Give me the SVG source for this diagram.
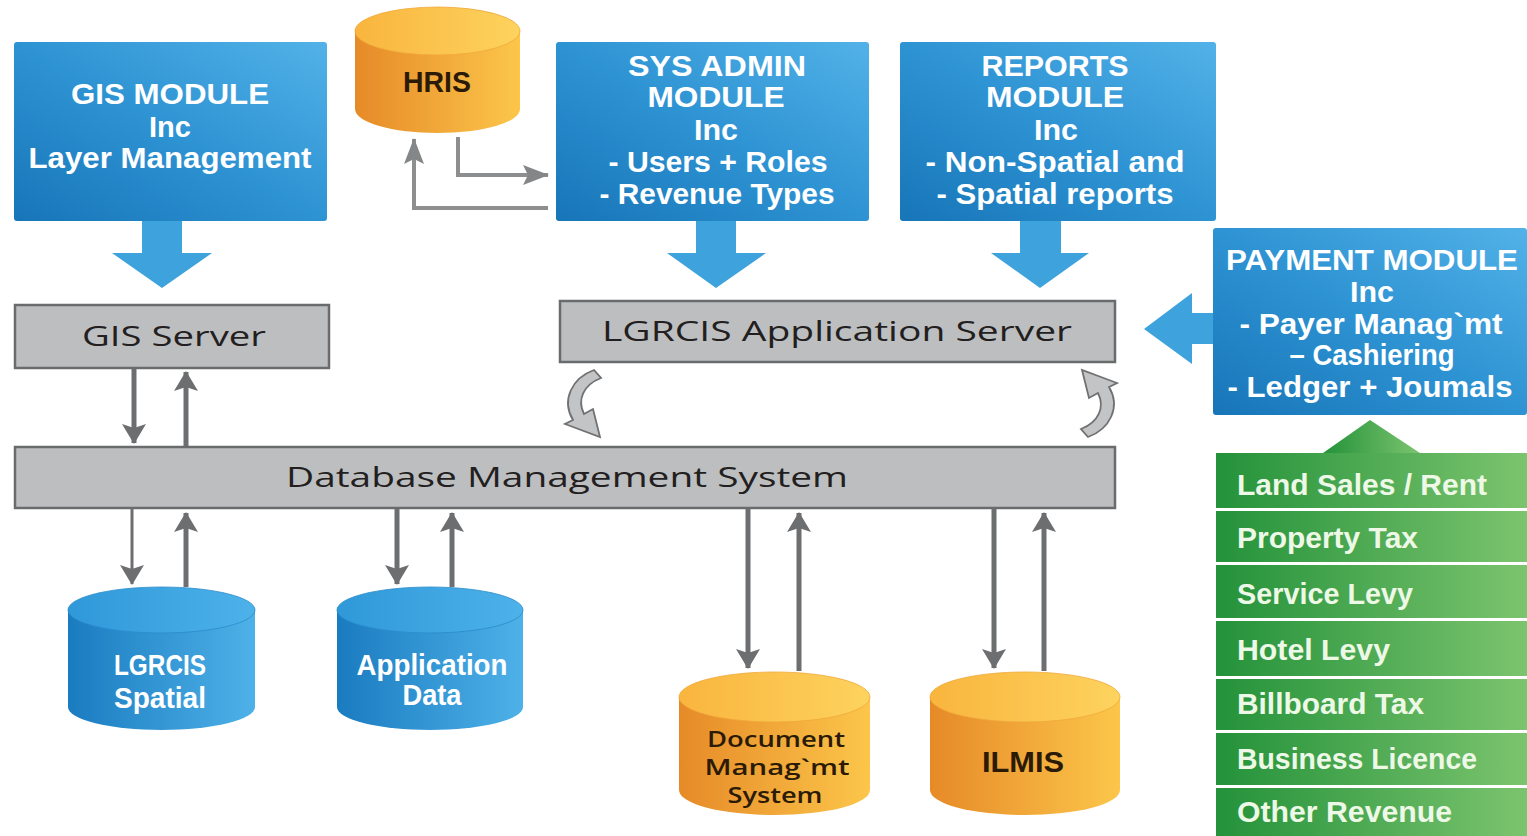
<svg xmlns="http://www.w3.org/2000/svg" xmlns:xlink="http://www.w3.org/1999/xlink" width="1527" height="836" viewBox="0 0 1527 836">
  <defs>
    <linearGradient id="gBlueBox" x1="0" y1="1" x2="1" y2="0">
      <stop offset="0" stop-color="#1775b8"/>
      <stop offset="0.5" stop-color="#2e93d3"/>
      <stop offset="1" stop-color="#52b2e8"/>
    </linearGradient>
    <linearGradient id="gBlueSide" x1="0" y1="0" x2="1" y2="0">
      <stop offset="0" stop-color="#1a7cc0"/>
      <stop offset="1" stop-color="#4eb1e8"/>
    </linearGradient>
    <linearGradient id="gBlueTop" x1="0" y1="0" x2="1" y2="0">
      <stop offset="0" stop-color="#2f98d8"/>
      <stop offset="1" stop-color="#4db2ea"/>
    </linearGradient>
    <linearGradient id="gOrangeSide" x1="0" y1="0" x2="1" y2="0">
      <stop offset="0" stop-color="#e68a28"/>
      <stop offset="1" stop-color="#fcc64a"/>
    </linearGradient>
    <linearGradient id="gOrangeTop" x1="0" y1="0" x2="1" y2="0">
      <stop offset="0" stop-color="#f9b53e"/>
      <stop offset="1" stop-color="#fdd35e"/>
    </linearGradient>
    <linearGradient id="gGreen" x1="0" y1="0" x2="1" y2="0">
      <stop offset="0" stop-color="#23923a"/>
      <stop offset="1" stop-color="#7cc46e"/>
    </linearGradient>
    <marker id="ah" viewBox="0 0 20 24" refX="19" refY="12" markerWidth="20" markerHeight="24" markerUnits="userSpaceOnUse" orient="auto">
      <path d="M0,0 L20,12 L0,24 L4,12 Z" fill="#6d6e70"/>
    </marker>
    <marker id="ahLight" viewBox="0 0 26 20" refX="25" refY="10" markerWidth="26" markerHeight="20" markerUnits="userSpaceOnUse" orient="auto">
      <path d="M0,0 L26,10 L0,20 L5,10 Z" fill="#858688"/>
    </marker>
    <!-- curled refresh arrow between application server and database -->
    <path id="curl" d="M594 370 C572 378, 561 400, 573 420 L565 424 L600 437 L593 409 L584 414 C577 400, 583 385, 601 378 Z"/>
  </defs>

  <style>
    .blueBox { fill: url(#gBlueBox); }
    .blockArrow { fill: #3ea2dc; }
    .server { fill: #bdbec0; stroke: #6a6b6d; stroke-width: 2.5; }
    .serverText { font-family: "Open Sans", "DejaVu Sans", sans-serif; font-size: 28px; fill: #231f20; text-anchor: middle; }
    .modText { font-family: "Liberation Sans", Arial, sans-serif; font-weight: bold; font-size: 30px; fill: #ffffff; text-anchor: middle; }
    .cylText { font-family: "Liberation Sans", Arial, sans-serif; font-weight: bold; font-size: 30px; fill: #ffffff; text-anchor: middle; }
    .cylDark { font-family: "Liberation Sans", Arial, sans-serif; font-weight: bold; font-size: 30px; fill: #2a1a06; text-anchor: middle; }
    .docText { font-family: "Open Sans", "DejaVu Sans", sans-serif; font-weight: 600; font-size: 22px; fill: #2a1a06; text-anchor: middle; }
    .rowText { font-family: "Liberation Sans", Arial, sans-serif; font-weight: bold; font-size: 30px; fill: #eef8e6; }
    .conn { fill: none; stroke: #6d6e70; stroke-width: 5; marker-end: url(#ah); }
    .connThin { fill: none; stroke: #6d6e70; stroke-width: 3; marker-end: url(#ah); }
    .connLight { fill: none; stroke: #8d8e90; stroke-width: 4; marker-end: url(#ahLight); }
    .curl { fill: #c3c4c6; stroke: #707173; stroke-width: 1.8; }
    .blueSide { fill: url(#gBlueSide); }
    .blueTop { fill: url(#gBlueTop); stroke: #2a8cca; stroke-width: 0.8; }
    .orangeSide { fill: url(#gOrangeSide); }
    .orangeTop { fill: url(#gOrangeTop); stroke: #f0a83a; stroke-width: 0.8; }
    .green { fill: url(#gGreen); }
  </style>

  <rect width="1527" height="836" fill="#ffffff"/>

  <!-- module boxes -->
  <g id="gis-module">
    <rect class="blueBox" x="14" y="42" width="313" height="179" rx="3"/>
    <text class="modText" x="170" y="104" textLength="198" lengthAdjust="spacingAndGlyphs">GIS MODULE</text>
    <text class="modText" x="170" y="137" textLength="42" lengthAdjust="spacingAndGlyphs">Inc</text>
    <text class="modText" x="170" y="168" textLength="283" lengthAdjust="spacingAndGlyphs">Layer Management</text>
    <polygon class="blockArrow" points="142,221 182,221 182,253 212,253 162,288 112,253 142,253"/>
  </g>

  <g id="sys-admin-module">
    <rect class="blueBox" x="556" y="42" width="313" height="179" rx="3"/>
    <text class="modText" x="717" y="76" textLength="178" lengthAdjust="spacingAndGlyphs">SYS ADMIN</text>
    <text class="modText" x="716" y="107" textLength="137" lengthAdjust="spacingAndGlyphs">MODULE</text>
    <text class="modText" x="716" y="140" textLength="44" lengthAdjust="spacingAndGlyphs">Inc</text>
    <text class="modText" x="718" y="172" textLength="219" lengthAdjust="spacingAndGlyphs">- Users + Roles</text>
    <text class="modText" x="717" y="204" textLength="235" lengthAdjust="spacingAndGlyphs">- Revenue Types</text>
    <polygon class="blockArrow" points="696,221 736,221 736,253 766,253 716,288 667,253 696,253"/>
  </g>

  <g id="reports-module">
    <rect class="blueBox" x="900" y="42" width="316" height="179" rx="3"/>
    <text class="modText" x="1055" y="76" textLength="147" lengthAdjust="spacingAndGlyphs">REPORTS</text>
    <text class="modText" x="1055" y="107" textLength="138" lengthAdjust="spacingAndGlyphs">MODULE</text>
    <text class="modText" x="1056" y="140" textLength="44" lengthAdjust="spacingAndGlyphs">Inc</text>
    <text class="modText" x="1055" y="172" textLength="259" lengthAdjust="spacingAndGlyphs">- Non-Spatial and</text>
    <text class="modText" x="1055" y="204" textLength="237" lengthAdjust="spacingAndGlyphs">- Spatial reports</text>
    <polygon class="blockArrow" points="1020,221 1061,221 1061,253 1089,253 1040,288 991,253 1020,253"/>
  </g>

  <g id="payment-module">
    <rect class="blueBox" x="1213" y="228" width="314" height="187" rx="3"/>
    <text class="modText" x="1372" y="270" textLength="292" lengthAdjust="spacingAndGlyphs">PAYMENT MODULE</text>
    <text class="modText" x="1372" y="302" textLength="44" lengthAdjust="spacingAndGlyphs">Inc</text>
    <text class="modText" x="1371" y="334" textLength="263" lengthAdjust="spacingAndGlyphs">- Payer Manag`mt</text>
    <text class="modText" x="1372" y="365" textLength="165" lengthAdjust="spacingAndGlyphs">– Cashiering</text>
    <text class="modText" x="1370" y="397" textLength="285" lengthAdjust="spacingAndGlyphs">- Ledger + Joumals</text>
    <polygon class="blockArrow" points="1213,313 1192,313 1192,293 1144,329 1192,364 1192,344 1213,344"/>
  </g>

  <!-- revenue sources feeding the payment module -->
  <g id="revenue-types">
    <polygon class="green" points="1323,453 1370,420 1420,453"/>
    <rect class="green" x="1216" y="453" width="311" height="55"/>
    <rect class="green" x="1216" y="511" width="311" height="51"/>
    <rect class="green" x="1216" y="565" width="311" height="53"/>
    <rect class="green" x="1216" y="621" width="311" height="55"/>
    <rect class="green" x="1216" y="679" width="311" height="51"/>
    <rect class="green" x="1216" y="733" width="311" height="52"/>
    <rect class="green" x="1216" y="788" width="311" height="48"/>
    <text class="rowText" x="1237" y="495" textLength="250" lengthAdjust="spacingAndGlyphs">Land Sales / Rent</text>
    <text class="rowText" x="1237" y="548" textLength="181" lengthAdjust="spacingAndGlyphs">Property Tax</text>
    <text class="rowText" x="1237" y="604" textLength="176" lengthAdjust="spacingAndGlyphs">Service Levy</text>
    <text class="rowText" x="1237" y="660" textLength="153" lengthAdjust="spacingAndGlyphs">Hotel Levy</text>
    <text class="rowText" x="1237" y="714" textLength="187" lengthAdjust="spacingAndGlyphs">Billboard Tax</text>
    <text class="rowText" x="1237" y="769" textLength="240" lengthAdjust="spacingAndGlyphs">Business Licence</text>
    <text class="rowText" x="1237" y="822" textLength="215" lengthAdjust="spacingAndGlyphs">Other Revenue</text>
  </g>

  <!-- servers -->
  <g id="gis-server">
    <rect class="server" x="15" y="305" width="314" height="63"/>
    <text class="serverText" x="174" y="346" textLength="184" lengthAdjust="spacingAndGlyphs">GIS Server</text>
  </g>

  <g id="app-server">
    <rect class="server" x="560" y="301" width="555" height="61"/>
    <text class="serverText" x="837" y="341" textLength="470" lengthAdjust="spacingAndGlyphs">LGRCIS Application Server</text>
  </g>

  <g id="dbms">
    <rect class="server" x="15" y="447" width="1100" height="61"/>
    <text class="serverText" x="567" y="487" textLength="562" lengthAdjust="spacingAndGlyphs">Database Management System</text>
  </g>

  <!-- databases -->
  <g id="hris">
    <path class="orangeSide" d="M355 31 L355 109 A82.5 24 0 0 0 520 109 L520 31 Z"/>
    <ellipse class="orangeTop" cx="437.5" cy="31" rx="82.5" ry="24"/>
    <text class="cylDark" x="437" y="92" textLength="68" lengthAdjust="spacingAndGlyphs">HRIS</text>
  </g>

  <g id="lgrcis-spatial">
    <path class="blueSide" d="M68 610 L68 707 A93.5 23 0 0 0 255 707 L255 610 Z"/>
    <ellipse class="blueTop" cx="161.5" cy="610" rx="93.5" ry="23"/>
    <text class="cylText" x="160" y="675" textLength="92" lengthAdjust="spacingAndGlyphs">LGRCIS</text>
    <text class="cylText" x="160" y="708" textLength="92" lengthAdjust="spacingAndGlyphs">Spatial</text>
  </g>

  <g id="application-data">
    <path class="blueSide" d="M337 610 L337 707 A93 23 0 0 0 523 707 L523 610 Z"/>
    <ellipse class="blueTop" cx="430" cy="610" rx="93" ry="23"/>
    <text class="cylText" x="432" y="675" textLength="151" lengthAdjust="spacingAndGlyphs">Application</text>
    <text class="cylText" x="432" y="705" textLength="59" lengthAdjust="spacingAndGlyphs">Data</text>
  </g>

  <g id="document-management">
    <path class="orangeSide" d="M679 697 L679 790 A95.5 25 0 0 0 870 790 L870 697 Z"/>
    <ellipse class="orangeTop" cx="774.5" cy="697" rx="95.5" ry="25"/>
    <text class="docText" x="776" y="747" textLength="138" lengthAdjust="spacingAndGlyphs">Document</text>
    <text class="docText" x="777" y="775" textLength="145" lengthAdjust="spacingAndGlyphs">Manag`mt</text>
    <text class="docText" x="775" y="803" textLength="95" lengthAdjust="spacingAndGlyphs">System</text>
  </g>

  <g id="ilmis">
    <path class="orangeSide" d="M930 697 L930 790 A95 25 0 0 0 1120 790 L1120 697 Z"/>
    <ellipse class="orangeTop" cx="1025" cy="697" rx="95" ry="25"/>
    <text class="cylDark" x="1023" y="772" textLength="82" lengthAdjust="spacingAndGlyphs">ILMIS</text>
  </g>

  <!-- connectors -->
  <g id="connectors">
    <path class="connLight" d="M548 208 L414 208 L414 139"/>
    <path class="connLight" d="M458 137 L458 175 L548 175"/>

    <path class="conn" d="M134 369 L134 443"/>
    <path class="conn" d="M186 446 L186 372"/>

    <path class="connThin" d="M132 509 L132 584"/>
    <path class="conn" d="M186 587 L186 513"/>

    <path class="conn" d="M397 509 L397 584"/>
    <path class="conn" d="M452 587 L452 513"/>

    <path class="conn" d="M748 509 L748 668"/>
    <path class="conn" d="M799 671 L799 513"/>

    <path class="conn" d="M994 509 L994 668"/>
    <path class="conn" d="M1044 671 L1044 513"/>

    <use xlink:href="#curl" class="curl"/>
    <use xlink:href="#curl" class="curl" transform="translate(516 -1) rotate(180 583 404)"/>
  </g>
</svg>
